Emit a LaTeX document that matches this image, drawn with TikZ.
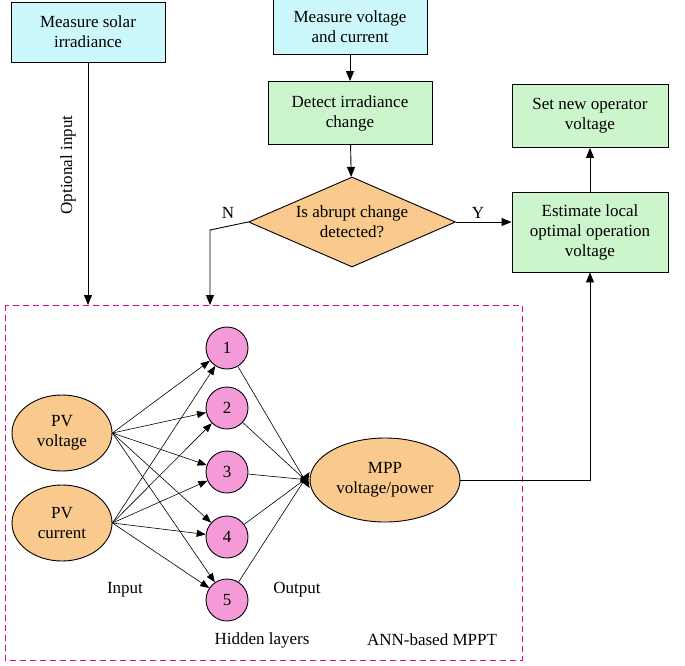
\documentclass[tikz,border=0pt]{standalone}
\usepackage{fontspec}
\setmainfont{Liberation Serif}
\usetikzlibrary{shapes.geometric,arrows.meta}
\definecolor{cy}{HTML}{CCF7FB}
\definecolor{gr}{HTML}{CCF5CC}
\definecolor{orf}{HTML}{F9C98E}
\definecolor{pk}{HTML}{F49AD8}
\begin{document}
\begin{tikzpicture}[x=1pt,y=-1pt,font=\fontsize{17}{20}\selectfont,line width=0.9pt,
 box/.style={draw,align=center,minimum width=154pt,minimum height=60pt,inner sep=2pt},
 ar/.style={-{Triangle[length=10pt,width=8pt]}},
 ar2/.style={-{Triangle[length=9pt,width=7pt]},line width=0.6pt},
 hid/.style={circle,draw,fill=pk,minimum size=42pt,inner sep=0pt},
 inp/.style={ellipse,draw,fill=orf,minimum width=100pt,minimum height=76pt,align=center,inner sep=0pt}]
\useasboundingbox (0,0) rectangle (685,665);
\node[box,fill=cy] (sol) at (88,32) {Measure solar\\irradiance};
\node[box,fill=cy,minimum height=55pt] (mvi) at (350,27) {Measure voltage\\and current};
\node[box,fill=gr,minimum width=164pt,minimum height=63pt] (det) at (350,113) {Detect irradiance\\change};
\node[diamond,draw,fill=orf,aspect=2.3,minimum width=207pt,minimum height=90pt,inner sep=0pt,align=center] (dia) at (352,222) {Is abrupt change\\detected?};
\node[box,fill=gr,minimum width=156pt,minimum height=63pt] (set) at (590,116) {Set new operator\\voltage};
\node[box,fill=gr,minimum width=156pt,minimum height=80pt] (est) at (590,232) {Estimate local\\optimal operation\\voltage};
\draw[magenta,dashed,line width=0.9pt,dash pattern=on 6pt off 4pt] (5,305) rectangle (522,660);
\coordinate (annA) at (88,305);
\coordinate (annB) at (210,305);
\coordinate (nc) at (210,230);
\coordinate (mc) at (590,480);
\draw[ar] (sol) -- (annA);
\node[rotate=90] at (68,165) {Optional input};
\draw[ar] (mvi) -- (det);
\draw[ar] (det) -- (dia);
\draw[ar] (dia.west) -- (nc) -- (annB);
\node at (228,213) {N};
\draw[ar] (dia.east) -- (est.west |- dia.east);
\node at (478,213) {Y};
\draw[ar] (est) -- (set);
\node[inp] (pvv) at (62,433) {PV\\voltage};
\node[inp] (pvc) at (62,523) {PV\\current};
\node[hid] (h1) at (227,348) {1};
\node[hid] (h2) at (227,408) {2};
\node[hid] (h3) at (227,472) {3};
\node[hid] (h4) at (227,537) {4};
\node[hid] (h5) at (227,600) {5};
\node[inp,minimum width=150pt,minimum height=84pt] (mpp) at (385,480) {MPP\\voltage/power};
\foreach \i in {pvv,pvc}{\foreach \h in {h1,h2,h3,h4,h5}{\draw[ar2] (\i.east) -- (\h);}}
\foreach \h/\d in {h1/-8,h2/-4,h3/0,h4/4,h5/8}{\draw[ar2] (\h) -- ([yshift=\d pt]mpp.west);}
\draw[ar] (mpp.east) -- (mc) -- (est.south);
\node at (125,590) {Input};
\node at (297,590) {Output};
\node at (262,640) {Hidden layers};
\node at (432,640) {ANN-based MPPT};
\end{tikzpicture}
\end{document}
